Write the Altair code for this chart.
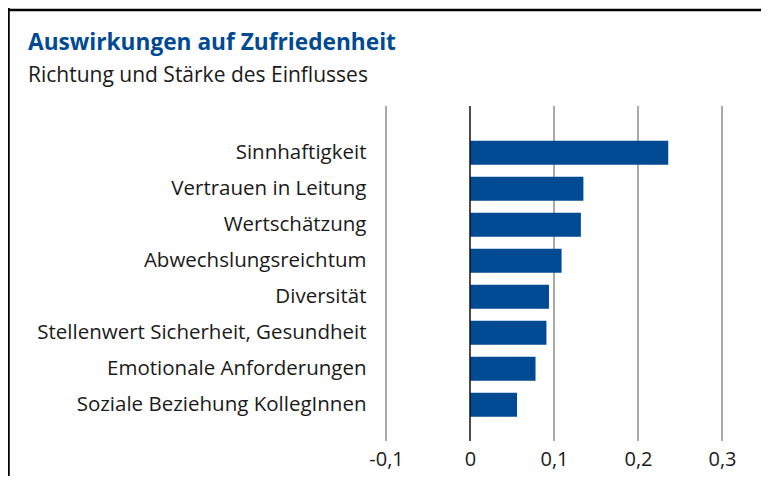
import altair as alt
import pandas as pd

categories = [
    "Sinnhaftigkeit",
    "Vertrauen in Leitung",
    "Wertschätzung",
    "Abwechslungsreichtum",
    "Diversität",
    "Stellenwert Sicherheit, Gesundheit",
    "Emotionale Anforderungen",
    "Soziale Beziehung KollegInnen",
]
values = [0.236, 0.135, 0.132, 0.109, 0.094, 0.091, 0.078, 0.056]
tick_values = [-0.1, 0, 0.1, 0.2, 0.3]
grid_values = [-0.1, 0.1, 0.2, 0.3]

title_text = "Auswirkungen auf Zufriedenheit"
subtitle_text = "Richtung und Stärke des Einflusses"

df = pd.DataFrame({"cat": categories, "val": values})

BLUE = "#004A93"
FONT = "Open Sans"

xscale = alt.Scale(domain=[-0.1, 0.3], nice=False, zero=False)
xaxis = alt.Axis(
    values=tick_values,
    title=None,
    grid=False,
    domain=False,
    ticks=False,
    labelFlush=False,
    labelPadding=8,
    labelFontSize=20,
    labelFont=FONT,
    labelColor="#1a1a1a",
    labelExpr="replace(replace(format(datum.value, '.1~f'), '.', ','), '\u2212', '-')",
)

grid = alt.Chart(pd.DataFrame({"g": grid_values})).mark_rule(color="#555555", strokeWidth=1).encode(
    x=alt.X("g:Q", scale=xscale, axis=xaxis)
)

bars = alt.Chart(df).mark_bar(color=BLUE).encode(
    x=alt.X("val:Q", scale=xscale, axis=xaxis),
    y=alt.Y(
        "cat:N",
        sort=categories,
        scale=alt.Scale(paddingInner=0.333, paddingOuter=0.82, align=0.59),
        axis=alt.Axis(
            title=None,
            domain=False,
            ticks=False,
            grid=False,
            labelPadding=20,
            labelFontSize=20.5,
            labelFont=FONT,
            labelColor="#1a1a1a",
            labelLimit=400,
        ),
    ),
)

zero = alt.Chart(pd.DataFrame({"z": [0]})).mark_rule(color="#111111", strokeWidth=1.5).encode(
    x=alt.X("z:Q", scale=xscale, axis=xaxis)
)

frame_top = alt.Chart(pd.DataFrame({"k": [0]})).mark_rule(color="#000000", strokeWidth=2.5).encode(
    x=alt.value(-380), x2=alt.value(420), y=alt.value(-96)
)
frame_left = alt.Chart(pd.DataFrame({"k": [0]})).mark_rule(color="#000000", strokeWidth=2.5).encode(
    x=alt.value(-377.5), y=alt.value(-100), y2=alt.value(420)
)

chart = (
    alt.layer(grid, bars, zero, frame_top, frame_left)
    .properties(
        width=336,
        height=335,
        padding={"left": 378, "top": 98, "right": 39, "bottom": 35},
        autosize=alt.AutoSizeParams(type="none"),
        title=alt.TitleParams(
            text=title_text,
            subtitle=subtitle_text,
            anchor="start",
            frame="group",
            dx=-358,
            dy=99,
            offset=18,
            font=FONT,
            fontSize=22.7,
            fontWeight="bold",
            color=BLUE,
            subtitleFont=FONT,
            subtitleFontSize=21,
            subtitleColor="#1a1a1a",
            subtitlePadding=10,
        ),
    )
    .configure(background="white")
    .configure_view(strokeWidth=0)
)

chart.save("out.html", embed_options={"renderer": "svg", "actions": False})
